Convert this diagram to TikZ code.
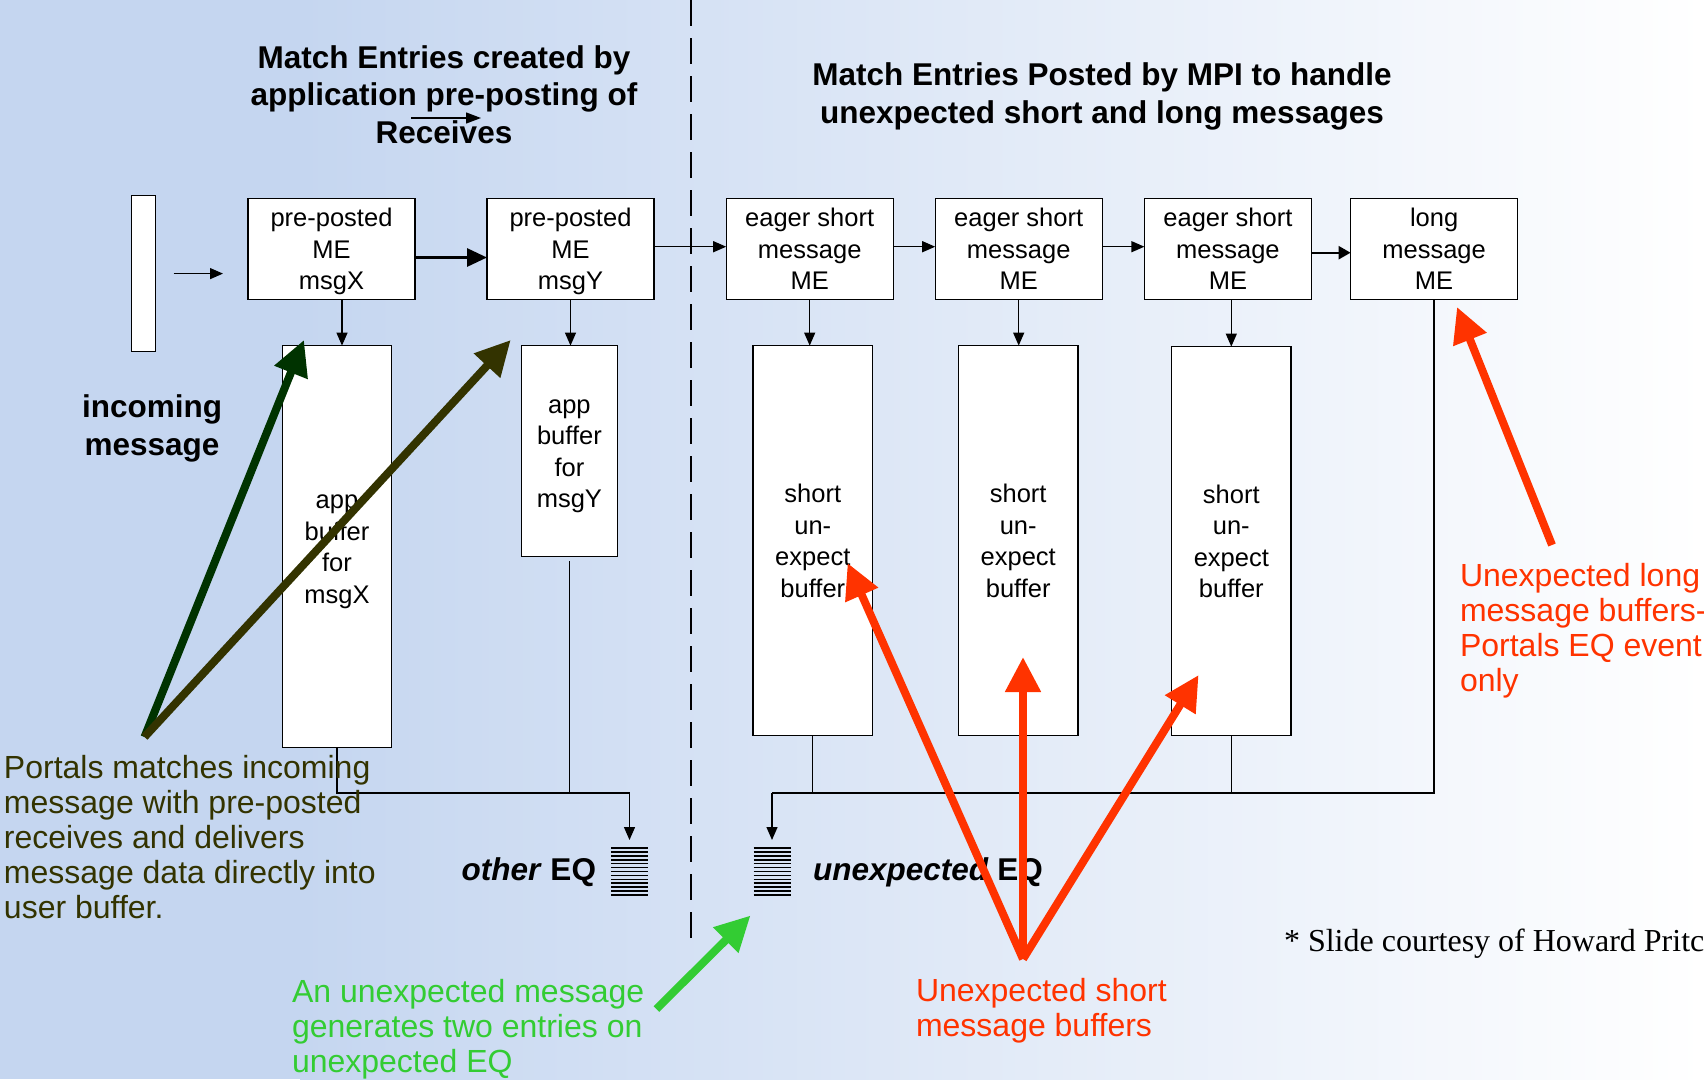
\documentclass[tikz,border=0pt]{standalone}
\usepackage{fontspec}
\setmainfont{Liberation Sans}
\newfontfamily\creditfont{Liberation Serif}
\usetikzlibrary{arrows.meta}

\definecolor{slideblue}{RGB}{197,214,240}
\definecolor{alertred}{RGB}{255,51,0}
\definecolor{deepgreen}{RGB}{0,51,0}
\definecolor{darkolive}{RGB}{51,51,0}
\definecolor{brightgreen}{RGB}{51,204,51}

% taller opening strut so box texts sit a little lower in their boxes
\newcommand\tallstrut{\rule{0pt}{28pt}}

\begin{document}
\begin{tikzpicture}[x=1pt,y=-1pt,
  every node/.style={inner sep=0pt, outer sep=0pt},
  boxtext/.style={font=\fontsize{25.5}{31.5}\selectfont, align=center},
  mebox/.style={boxtext, draw, line width=1.3pt, fill=white,
                minimum width=167pt, minimum height=98pt},
  bufbox/.style={boxtext, draw, line width=1.3pt, fill=white},
  wire/.style={line width=1.3pt},
  conn/.style={wire, -{Triangle[length=13pt,width=11pt]}},
  bigconn/.style={line width=3pt, -{Triangle[length=20pt,width=18pt]}},
  callout/.style={line width=8pt, -{Triangle[length=35pt,width=34pt]}},
  heading/.style={font=\fontsize{31.5}{37.5}\selectfont\bfseries, align=center},
  note/.style={font=\fontsize{32}{35}\selectfont, align=left},
  eqmark/.style={minimum width=37pt, minimum height=47pt},
  eqline/.style={line width=1.6pt},
]
\useasboundingbox (0,0) rectangle (1704,1079);
\clip (0,0) rectangle (1704,1079);

% slide background
\fill[slideblue] (0,0) rectangle (300,1079);
\shade[left color=slideblue, right color=white] (300,0) rectangle (1704,1079);

% separator between application and MPI match entries
\draw[line width=2.6pt, dash pattern=on 26pt off 12pt] (691,0) -- (691,945);

% headings
\node[heading] (leftTitle) at (444,94.3)
  {Match Entries created by\\application pre-posting of\\Receives};
\node[heading] (rightTitle) at (1102,96.5)
  {Match Entries Posted by MPI to handle\\unexpected short and long messages};
\coordinate (strayS) at (411,118);
\coordinate (strayE) at (481,118);
\draw[wire, -{Triangle[length=15pt,width=11pt]}] (strayS) -- (strayE);

% incoming message
\node[draw, line width=1.3pt, fill=white, minimum width=24pt, minimum height=156pt]
  (bar) at (143.7,273.6) {};
\node[heading] (incoming) at (152,428.5) {incoming\\message};

% match entries
\node[mebox] (meX) at (331.5,249) {\tallstrut pre-posted\\ME\\msgX\strut};
\node[mebox] (meY) at (570.5,249) {\tallstrut pre-posted\\ME\\msgY\strut};
\node[mebox] (shortA) at (809.7,249) {\tallstrut eager short\\message\\ME\strut};
\node[mebox] (shortB) at (1018.7,249) {\tallstrut eager short\\message\\ME\strut};
\node[mebox] (shortC) at (1227.9,249) {\tallstrut eager short\\message\\ME\strut};
\node[mebox] (longME) at (1434.1,249) {\tallstrut long\\message\\ME\strut};

% buffers
\node[bufbox, minimum width=108.7pt, minimum height=402pt] (bufX) at (337,546.6)
  {\tallstrut app\\buffer\\for\\msgX\strut};
\node[bufbox, minimum width=95.6pt, minimum height=210.8pt] (bufY) at (569.4,451)
  {\tallstrut app\\buffer\\for\\msgY\strut};
\node[bufbox, minimum width=119.6pt, minimum height=390pt] (bufA) at (812.8,540.6)
  {\tallstrut short\\un-\\expect\\buffer\strut};
\node[bufbox, minimum width=119.6pt, minimum height=390pt] (bufB) at (1018.2,540.6)
  {\tallstrut short\\un-\\expect\\buffer\strut};
\node[bufbox, minimum width=119.6pt, minimum height=389pt] (bufC) at (1231.3,541.1)
  {\tallstrut short\\un-\\expect\\buffer\strut};

% event queues
\node[eqmark] (eqOther) at (629.5,871.5) {};
\node[eqmark] (eqUnexp) at (772,871.5) {};
\foreach \k in {0,...,12} {
  \draw[eqline] ([yshift=-\k*3.92pt]eqOther.north west) -- ([yshift=-\k*3.92pt]eqOther.north east);
  \draw[eqline] ([yshift=-\k*3.92pt]eqUnexp.north west) -- ([yshift=-\k*3.92pt]eqUnexp.north east);
}
\node[font=\fontsize{31.5}{37}\selectfont\bfseries, anchor=base east] (otherLbl) at (596,880)
  {\itshape other\/\upshape\ EQ};
\node[font=\fontsize{31.5}{37}\selectfont\bfseries, anchor=base west] (unexpLbl) at (813,880)
  {\itshape unexpected\/\upshape\ EQ};

% match list chain
\draw[conn] ([xshift=18pt]bar.east) -- ([xshift=-25pt]meX.west |- bar.east);
\draw[bigconn] ([yshift=-8.5pt]meX.east) -- ([yshift=-8.5pt]meY.west);
\draw[conn] ([yshift=2.3pt]meY.east) -- ([yshift=2.3pt]shortA.west);
\draw[conn] ([yshift=2.3pt]shortA.east) -- ([yshift=2.3pt]shortB.west);
\draw[conn] ([yshift=2.3pt]shortB.east) -- ([yshift=2.3pt]shortC.west);
\draw[line width=2.4pt, -{Triangle[length=12pt,width=13pt]}]
  ([yshift=-3.7pt]shortC.east) -- ([yshift=-3.7pt]longME.west);

% entries to their buffers
\draw[conn] ([xshift=10.5pt]meX.south) -- ([xshift=5pt]bufX.north);
\draw[conn] (meY.south) -- (meY.south |- bufY.north);
\draw[conn] (shortA.south) -- (shortA.south |- bufA.north);
\draw[conn] (shortB.south) -- (shortB.south |- bufB.north);
\draw[conn] (bufC.north |- shortC.south) -- (bufC.north);

% buffers to event queues
\coordinate (busL) at (629.5,793);
\coordinate (busR) at (772,793);
\draw[conn] (bufX.south) |- (busL) -- ([yshift=8pt]eqOther.north);
\draw[wire] ([yshift=-5pt]bufY.south) -- (bufY.south |- busL);
\draw[wire] (longME.south) |- (busR);
\draw[conn] (busR) -- ([yshift=8pt]eqUnexp.north);
\draw[wire] (bufA.south) -- (bufA.south |- busR);
\draw[wire] (bufC.south) -- (bufC.south |- busR);

% explanatory notes
\node[note, text=darkolive, anchor=west] (portalsNote) at (4,841.5)
  {\strut Portals matches incoming\\message with pre-posted\\receives and delivers\\message data directly into\\user buffer.\strut};
\node[note, text=brightgreen, anchor=west] (unexpNote) at (292,1030)
  {\strut An unexpected message\\generates two entries on\\unexpected EQ\strut};
\node[note, text=alertred, anchor=west] (shortNote) at (916,1011.5)
  {\strut Unexpected short\\message buffers\strut};
\node[note, text=alertred, anchor=west] (longNote) at (1460,632)
  {\strut Unexpected long\\message buffers-\\Portals EQ event\\only\strut};
\node[font=\creditfont\fontsize{32}{36}\selectfont, anchor=base west] (credit) at (1284,951)
  {* Slide courtesy of Howard Pritc};

% call-out arrows
\coordinate (portalsTail) at (144.5,737);
\coordinate (tipX) at (304,340);
\coordinate (tipY) at (510.7,340);
\draw[callout, deepgreen] (portalsTail) -- (tipX);
\draw[callout, darkolive] (portalsTail) -- (tipY);

\coordinate (greenTail) at (656.4,1009);
\coordinate (greenTip) at (750.5,915.5);
\draw[callout, brightgreen] (greenTail) -- (greenTip);

\coordinate (shortTail) at (1023,959);
\coordinate (tipA) at (847.6,563);
\coordinate (tipB) at (1023,657);
\coordinate (tipC) at (1198.6,675);
\draw[callout, alertred] (shortTail) -- (tipA);
\draw[callout, alertred] (shortTail) -- (tipB);
\draw[callout, alertred] (shortTail) -- (tipC);

\coordinate (longTail) at (1552,545);
\coordinate (longTip) at (1457,307);
\draw[callout, alertred] (longTail) -- (longTip);
\end{tikzpicture}
\end{document}
